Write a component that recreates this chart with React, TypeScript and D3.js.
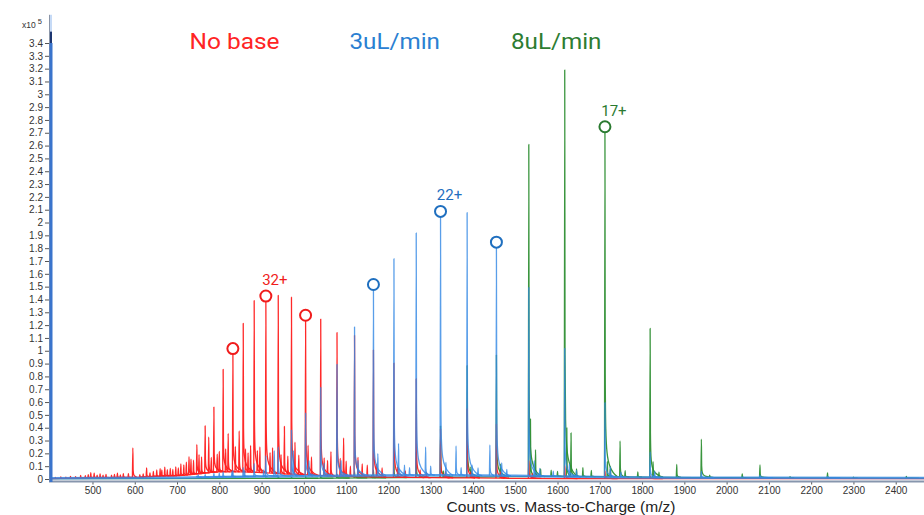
import React, { useEffect, useRef } from 'react'
import * as d3 from 'd3'

const xTickValues = [500, 600, 700, 800, 900, 1000, 1100, 1200, 1300, 1400, 1500, 1600, 1700, 1800, 1900, 2000, 2100, 2200, 2300, 2400]
const yTickValues = [0, 0.1, 0.2, 0.3, 0.4, 0.5, 0.6, 0.7, 0.8, 0.9, 1, 1.1, 1.2, 1.3, 1.4, 1.5, 1.6, 1.7, 1.8, 1.9, 2, 2.1, 2.2, 2.3, 2.4, 2.5, 2.6, 2.7, 2.8, 2.9, 3, 3.1, 3.2, 3.3, 3.4]

const seriesNames = ['No base', '3uL/min', '8uL/min']

// charge-state envelope (z, m/z)
const chargeStates = [40, 39, 38, 37, 36, 35, 34, 33, 32, 31, 30, 29, 28, 27, 26, 25, 24, 23, 22, 21, 20, 19, 18, 17, 16, 15, 14, 13, 12]
const chargeMz = [728.3, 746.9, 766.5, 787.2, 809.1, 832.1, 856.6, 882.5, 910.1, 939.4, 970.7, 1004.1, 1039.9, 1078.4, 1119.9, 1164.6, 1213.1, 1265.8, 1323.3, 1386.2, 1455.5, 1532.1, 1617.1, 1712.2, 1819.1, 1940.3, 2078.9, 2238.7, 2425.2]

const noBaseMain = [0.14, 0.23, 0.37, 0.51, 0.8, 0.97, 1.16, 1.34, 1.38, 1.39, 1.38, 1.23, 1.22, 1.12, 1.1, 0.99, 0.89, 0.77, 0.38, 0.54, 0.42, 0.14, 0.1, 0.06, 0.02, 0, 0, 0, 0]
const flow3Main = [0, 0.01, 0.02, 0.03, 0.04, 0.05, 0.07, 0.1, 0.16, 0.23, 0.36, 0.49, 0.69, 0.87, 1.16, 1.47, 1.69, 1.89, 2.04, 2.05, 1.8, 1.47, 1.0, 0.58, 0.2, 0.05, 0.02, 0.01, 0]
const flow8Main = [0, 0, 0, 0, 0, 0, 0, 0, 0.005, 0.01, 0.01, 0.015, 0.02, 0.03, 0.05, 0.06, 0.12, 0.2, 0.4, 0.87, 0.95, 2.59, 3.17, 2.7, 1.16, 0.3, 0.1, 0.04, 0.015]

const noBaseMinor: [number, number][] = [
  [412, 0.008], [425, 0.012], [437, 0.01], [448, 0.015], [460, 0.012], [472, 0.02], [483, 0.018], [490, 0.025],
  [496, 0.04], [504, 0.035], [511, 0.02], [518, 0.03], [525, 0.02], [532, 0.025], [545, 0.02], [552, 0.025],
  [559, 0.035], [566, 0.02], [573, 0.03], [585, 0.03], [595.5, 0.23], [612, 0.02], [620, 0.025], [628, 0.07],
  [636, 0.03], [644, 0.04], [652, 0.05], [660, 0.06], [664, 0.05], [671, 0.07], [677, 0.05], [684, 0.06],
  [690, 0.05], [697, 0.07], [703, 0.06], [709, 0.09], [716, 0.08], [722, 0.1], [733, 0.12], [739, 0.11],
  [752, 0.15], [758, 0.13], [775, 0.28], [781, 0.12], [795, 0.14], [800, 0.16], [815, 0.18], [821, 0.3],
  [838, 0.2], [847, 0.32], [862, 0.18], [868, 0.15], [874, 0.21], [890, 0.17], [896, 0.2], [920, 0.16],
  [926, 0.2], [946, 0.15], [954, 0.37], [962, 0.14], [979, 0.25], [988, 0.15], [1010, 0.23], [1018, 0.14],
  [1048, 0.14], [1056, 0.12], [1064, 0.19], [1086, 0.14], [1094, 0.3], [1100, 0.12], [1110, 0.08], [1128, 0.15],
  [1138, 0.1], [1150, 0.09], [1172, 0.1], [1185, 0.07], [1222, 0.08], [1240, 0.05], [1275, 0.06], [1290, 0.04],
  [1335, 0.05], [1395, 0.05], [1465, 0.05], [1540, 0.04],
]
const flow3Minor: [number, number][] = [
  [750, 0.02], [800, 0.03], [830, 0.04], [860, 0.05], [905, 0.05], [930, 0.2], [975, 0.2], [1012, 0.12],
  [1048, 0.1], [1088, 0.12], [1128, 0.12], [1175, 0.17], [1224, 0.25], [1238, 0.08], [1250, 0.06], [1288, 0.22],
  [1300, 0.07], [1336, 0.1], [1360, 0.23], [1372, 0.06], [1398, 0.08], [1412, 0.06], [1440, 0.24], [1468, 0.1],
  [1480, 0.05], [1545, 0.12], [1558, 0.06], [1590, 0.04], [1628, 0.1], [1645, 0.05], [1725, 0.08], [1750, 0.04],
  [1830, 0.05],
]
const flow8Minor: [number, number][] = [
  [1160, 0.02], [1330, 0.05], [1395, 0.08], [1465, 0.1], [1536, 0.45], [1548, 0.21], [1560, 0.06], [1585, 0.05],
  [1600, 0.04], [1622, 0.38], [1632, 0.34], [1645, 0.06], [1660, 0.07], [1680, 0.05], [1718, 0.12], [1725, 0.08],
  [1748, 0.28], [1760, 0.05], [1790, 0.04], [1826, 0.12], [1840, 0.04], [1882, 0.1], [1960, 0.02], [2037, 0.03],
  [2150, 0.01], [2300, 0.008],
]

const noBaseBaseline: [number, number][] = [[400, 0.003], [450, 0.006], [500, 0.01], [600, 0.012], [650, 0.02], [700, 0.025], [750, 0.04], [800, 0.055], [850, 0.055], [900, 0.05], [950, 0.04], [1000, 0.035], [1050, 0.025], [1100, 0.02], [1200, 0.015], [1300, 0.01], [1400, 0.008], [1500, 0.005], [1700, 0.003], [2470, 0.002]]
const flow3Baseline: [number, number][] = [[400, 0.005], [700, 0.01], [900, 0.02], [1100, 0.025], [1300, 0.03], [1500, 0.025], [1700, 0.015], [1900, 0.01], [2470, 0.008]]
const flow8Baseline: [number, number][] = [[400, 0.002], [1000, 0.005], [1400, 0.015], [1600, 0.02], [1800, 0.015], [2000, 0.01], [2470, 0.005]]

// circled charge states, one labelled per series
const noBaseMarks = [35, 32, 29]
const flow3Marks = [25, 22, 20]
const flow8Marks = [17]
const markLabels = ['32+', '22+', '17+']
const labelledCharge = [32, 22, 17]

const colors = ['#ff1e1e', '#3589e4', '#2f8f34']
const textColors = ['#ff2424', '#2a80d2', '#2e7d32']
const markColors = ['#f01c1c', '#1f6fbf', '#2a7a30']

// peak profile: [dx in m/z, fraction of height]
const peakShape = [[-1, 0], [0, 1], [0.7, 0.3], [2, 0.14], [5, 0.07], [12, 0.03], [30, 0]]
const minorShape = [[-1, 0], [0, 1], [0.7, 0.25], [2, 0.1], [5, 0.04], [10, 0]]

export default function App() {
  const ref = useRef<SVGSVGElement>(null)

  useEffect(() => {
    const svg = d3.select(ref.current)
    svg.selectAll('*').remove()

    const x = d3.scaleLinear().domain([400, 2470]).range([50.2, 925.3])
    const y = d3.scaleLinear().domain([0, 3.4]).range([479, 43])

    svg.append('clipPath').attr('id', 'plot-clip')
      .append('rect').attr('x', 51).attr('y', 0).attr('width', 880).attr('height', 481)

    const plot = svg.append('g').attr('clip-path', 'url(#plot-clip)')

    const line = d3.line<number[]>()
      .x(d => x(d[0]))
      .y(d => y(d[1]))
      .curve(d3.curveMonotoneX)

    const mains = [noBaseMain, flow3Main, flow8Main]
    const minors = [noBaseMinor, flow3Minor, flow8Minor]
    const baselines = [noBaseBaseline, flow3Baseline, flow8Baseline]
    const opac = [0.95, 0.82, 0.95]

    // draw green first, then red, blue on top
    const order = [2, 0, 1]
    order.forEach(i => {
      const g = plot.append('g').attr('stroke', colors[i]).attr('fill', 'none')
        .attr('stroke-opacity', opac[i]).attr('stroke-linejoin', 'round')
      const bl = baselines[i]
      const base = d3.scaleLinear().domain(bl.map(d => d[0])).range(bl.map(d => d[1])).clamp(true)
      const drawPeak = (mz: number, h: number, shape: number[][]) => {
        const pts = shape.map(([dx, f]) => [mz + dx, base(mz + dx) + f * h])
        g.append('path').attr('d', line(pts)).attr('stroke-width', 1.3)
      }
      minors[i].forEach(([mz, h]) => drawPeak(mz, h, minorShape))
      chargeMz.forEach((mz, k) => {
        if (mains[i][k] > 0) drawPeak(mz, mains[i][k], peakShape)
      })
      g.append('path').attr('d', line(bl)).attr('stroke-width', i === 1 ? 2.5 : 1.2)
    })

    // axes
    const xAxis = d3.axisBottom(x).tickValues(xTickValues).tickSize(3).tickPadding(2)
      .tickFormat(d => d3.format('d')(d as number))
    const gx = svg.append('g').attr('transform', 'translate(0,481.5)').call(xAxis)
    gx.select('.domain').remove()
    gx.selectAll('line').attr('stroke', '#555')
    gx.selectAll('text').attr('font-size', 10).attr('fill', '#333')
      .attr('font-family', '"Liberation Sans", Arial, sans-serif')

    svg.append('line').attr('x1', 49).attr('x2', 924).attr('y1', 481.5).attr('y2', 481.5)
      .attr('stroke', '#8796ad').attr('stroke-width', 2)

    const yAxis = d3.axisLeft(y).tickValues(yTickValues).tickSize(4).tickPadding(2)
      .tickFormat(d => d3.format('~g')(d as number))
    const gy = svg.append('g').attr('transform', 'translate(49,0)').call(yAxis)
    gy.select('.domain').remove()
    gy.selectAll('line').attr('stroke', '#555')
    gy.selectAll('text').attr('font-size', 10).attr('fill', '#333')
      .attr('font-family', '"Liberation Sans", Arial, sans-serif')

    // vertical axis line (blue trace edge)
    svg.append('line').attr('x1', 49.5).attr('x2', 49.5).attr('y1', y(3.62)).attr('y2', 482)
      .attr('stroke', '#8a95a8').attr('stroke-width', 1)
    svg.append('line').attr('x1', 51).attr('x2', 51).attr('y1', y(3.4)).attr('y2', 482)
      .attr('stroke', '#3a74cc').attr('stroke-width', 3)
    svg.append('line').attr('x1', 51).attr('x2', 51).attr('y1', y(3.49)).attr('y2', y(3.4))
      .attr('stroke', '#1c3570').attr('stroke-width', 2)
    svg.append('line').attr('x1', 51).attr('x2', 51).attr('y1', y(3.62)).attr('y2', y(3.49))
      .attr('stroke', '#8db6ee').attr('stroke-width', 1)

    const exp = svg.append('text').attr('x', 22).attr('y', 27.5)
      .attr('font-family', '"Liberation Sans", Arial, sans-serif').attr('fill', '#333').attr('font-size', 8.5)
    exp.append('tspan').text('x10')
    exp.append('tspan').attr('dx', 2).attr('dy', -4).attr('font-size', 7.5).text('5')

    svg.append('text').attr('x', 561).attr('y', 512)
      .attr('text-anchor', 'middle').attr('font-size', 14).attr('fill', '#222')
      .attr('font-family', '"Liberation Sans", Arial, sans-serif')
      .attr('textLength', 229).attr('lengthAdjust', 'spacingAndGlyphs')
      .text('Counts vs. Mass-to-Charge (m/z)')

    // legend labels
    const legendX = [189.5, 349.5, 511]
    const legendW = [90, 90.5, 90.5]
    seriesNames.forEach((name, i) => {
      svg.append('text').attr('x', legendX[i]).attr('y', 49)
        .attr('font-size', 22).attr('fill', textColors[i])
        .attr('font-family', 'Roboto, "Liberation Sans", Arial, sans-serif')
        .attr('textLength', legendW[i]).attr('lengthAdjust', 'spacingAndGlyphs')
        .text(name)
    })

    // circled peaks
    const marks = [noBaseMarks, flow3Marks, flow8Marks]
    marks.forEach((list, i) => {
      list.forEach(z => {
        const k = chargeStates.indexOf(z)
        const cx = x(chargeMz[k])
        const cy = y(mains[i][k]) - 6
        svg.append('circle').attr('cx', cx).attr('cy', cy).attr('r', 5.5)
          .attr('fill', 'white').attr('stroke', markColors[i]).attr('stroke-width', 2)
        if (z === labelledCharge[i]) {
          svg.append('text').attr('x', cx + 9).attr('y', cy - 11)
            .attr('text-anchor', 'middle').attr('font-size', 15).attr('fill', markColors[i])
            .attr('font-family', 'Roboto, "Liberation Sans", Arial, sans-serif')
            .text(markLabels[i])
        }
      })
    })
  }, [])

  return (
    <svg ref={ref} width={924} height={515}
      style={{ position: 'absolute', left: 0, top: 0, background: '#fff' }} />
  )
}
